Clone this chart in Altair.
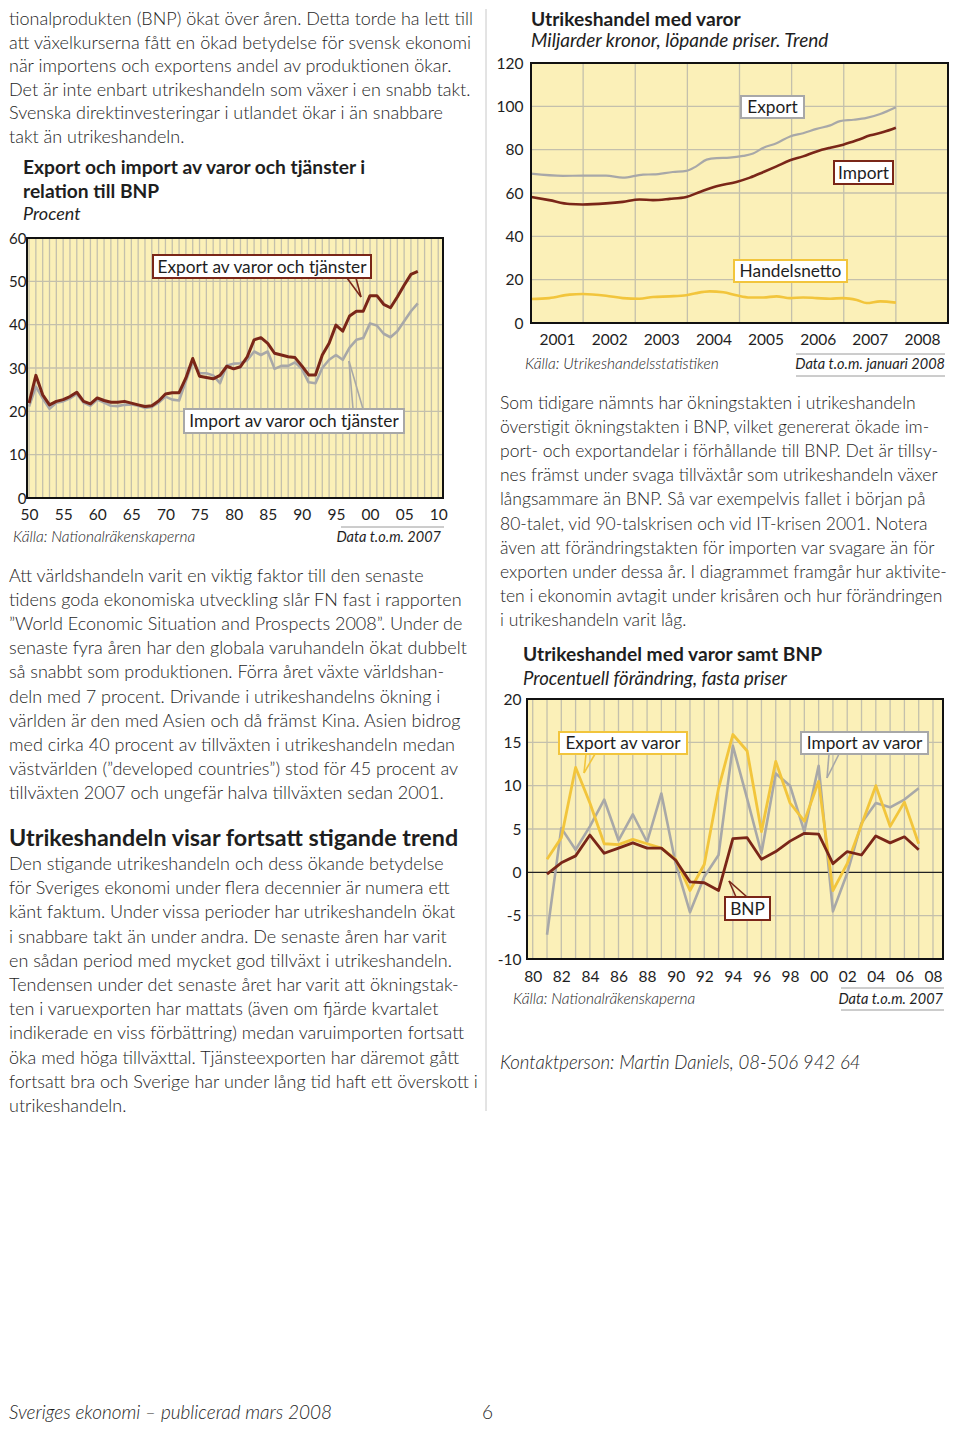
import altair as alt
import pandas as pd

# ---------------- data ----------------
# Chart 1: Export och import av varor och tjänster i relation till BNP (procent)
c1_years = list(range(1950, 2008))
c1_export = [21.9, 28.3, 23.8, 21.5, 22.3, 22.7, 23.4, 24.4, 22.3, 21.7,
             23.1, 22.5, 22.1, 22.1, 22.3, 21.9, 21.5, 21.1, 21.3, 22.4,
             24.0, 24.3, 24.3, 27.7, 32.2, 28.1, 27.8, 27.5, 28.3, 30.4,
             29.8, 30.3, 32.6, 36.5, 37.0, 35.7, 33.4, 33.0, 32.6, 32.4,
             30.5, 28.4, 28.4, 33.0, 35.7, 39.9, 38.5, 42.0, 43.1, 43.1,
             46.7, 46.7, 44.7, 43.9, 46.4, 49.1, 51.6, 52.3]
c1_import = [21.1, 25.7, 23.0, 20.6, 22.0, 22.3, 23.0, 24.0, 22.0, 21.3,
             22.7, 22.0, 21.3, 21.2, 21.5, 21.6, 21.3, 20.8, 21.0, 22.0,
             23.4, 22.7, 22.5, 27.0, 31.5, 28.8, 28.8, 28.3, 26.5, 30.6,
             31.0, 31.1, 31.8, 33.8, 33.0, 33.8, 29.8, 30.5, 30.5, 31.3,
             29.8, 26.7, 26.5, 30.0, 31.9, 33.0, 31.9, 34.7, 36.5, 36.9,
             40.3, 39.8, 37.9, 37.1, 38.5, 40.8, 43.1, 44.9]
c1_x_ticks = list(range(1950, 2011, 5))
c1_y_ticks = [0, 10, 20, 30, 40, 50, 60]
c1_vgrid = list(range(1950, 2011))
c1_hgrid = [10, 20, 30, 40, 50]

# Chart 2: Utrikeshandel med varor, miljarder kronor, trend
c2_export_t = [2001.00, 2001.61, 2001.99, 2002.44, 2002.76, 2003.15, 2003.35, 2003.72, 2003.98,
               2004.17, 2004.37, 2004.56, 2004.81, 2005.07, 2005.26, 2005.46, 2005.71, 2005.97,
               2006.22, 2006.48, 2006.74, 2006.93, 2007.19, 2007.44, 2007.70, 2008.00]
c2_export_v = [68.9, 67.9, 68.0, 68.0, 67.1, 68.5, 68.6, 69.7, 70.2,
               72.3, 75.4, 76.1, 76.3, 77.1, 78.2, 80.9, 83.0, 86.1,
               87.6, 89.6, 91.2, 93.2, 93.8, 94.7, 96.5, 99.6]
c2_import_t = [2001.00, 2001.35, 2001.74, 2001.99, 2002.44, 2002.76, 2003.08, 2003.34, 2003.66,
               2003.98, 2004.24, 2004.56, 2004.94, 2005.20, 2005.46, 2005.71, 2005.97, 2006.22,
               2006.48, 2006.74, 2006.99, 2007.25, 2007.51, 2007.76, 2008.00]
c2_import_v = [58.2, 56.7, 54.9, 54.7, 55.2, 55.9, 57.0, 56.7, 57.3,
               58.2, 60.5, 63.1, 65.1, 67.1, 69.7, 72.3, 75.1, 76.9,
               79.2, 80.9, 82.3, 84.3, 86.6, 88.1, 90.1]
c2_netto_t = [2001.00, 2001.35, 2001.74, 2001.99, 2002.44, 2002.76, 2003.08, 2003.34, 2003.66,
              2003.98, 2004.17, 2004.43, 2004.69, 2004.94, 2005.20, 2005.46, 2005.71, 2005.97,
              2006.22, 2006.48, 2006.74, 2006.99, 2007.25, 2007.44, 2007.70, 2008.00]
c2_netto_v = [11.1, 11.5, 13.1, 13.4, 12.6, 11.5, 11.2, 12.0, 12.3,
              12.8, 13.8, 14.6, 14.2, 12.8, 11.8, 11.8, 12.3, 11.5,
              11.8, 11.5, 11.2, 11.5, 10.6, 9.2, 10.0, 9.4]
c2_years = [2001, 2002, 2003, 2004, 2005, 2006, 2007, 2008]
c2_label_pos = [2001.5, 2002.5, 2003.5, 2004.5, 2005.5, 2006.5, 2007.5, 2008.5]
c2_vgrid = [2002, 2003, 2004, 2005, 2006, 2007, 2008]
c2_y_ticks = [0, 20, 40, 60, 80, 100, 120]
c2_hgrid = [20, 40, 60, 80, 100]

# Chart 3: Utrikeshandel med varor samt BNP, procentuell förändring
c3_years = list(range(1981, 2008))
c3_bnp = [-0.2, 1.1, 1.9, 4.3, 2.2, 2.8, 3.4, 2.8, 2.8, 1.4, -1.1, -1.2, -2.1, 3.9,
          4.0, 1.5, 2.4, 3.6, 4.5, 4.4, 1.0, 2.4, 2.0, 4.2, 3.4, 4.1, 2.6]
c3_export = [1.5, 4.0, 12.1, 8.0, 3.3, 3.2, 3.8, 3.3, 2.8, 1.5, -2.1, 0.9, 9.7, 15.9,
             14.0, 4.7, 12.8, 8.0, 5.9, 10.5, -2.1, 1.0, 5.5, 10.0, 5.3, 8.1, 3.3]
c3_import = [-7.2, 5.1, 2.6, 5.3, 8.4, 3.7, 6.7, 3.5, 9.1, 1.0, -4.6, -0.5, 2.0, 14.6,
             8.5, 2.2, 11.4, 10.0, 4.7, 12.3, -4.5, -0.1, 5.7, 8.0, 7.5, 8.4, 9.7]
c3_x_ticks = list(range(1980, 2009, 2))
c3_vgrid = list(range(1980, 2009))
c3_y_ticks = [-10, -5, 0, 5, 10, 15, 20]
c3_hgrid = [-5, 5, 10, 15]

# ---------------- texts ----------------
para1 = ["tionalprodukten (BNP) ökat över åren. Detta torde ha lett till",
         "att växelkurserna fått en ökad betydelse för svensk ekonomi",
         "när importens och exportens andel av produktionen ökar.",
         "Det är inte enbart utrikeshandeln som växer i en snabb takt.",
         "Svenska direktinvesteringar i utlandet ökar i än snabbare",
         "takt än utrikeshandeln."]
para2 = ["Att världshandeln varit en viktig faktor till den senaste",
         "tidens goda ekonomiska utveckling slår FN fast i rapporten",
         "”World Economic Situation and Prospects 2008”. Under de",
         "senaste fyra åren har den globala varuhandeln ökat dubbelt",
         "så snabbt som produktionen. Förra året växte världshan-",
         "deln med 7 procent. Drivande i utrikeshandelns ökning i",
         "världen är den med Asien och då främst Kina. Asien bidrog",
         "med cirka 40 procent av tillväxten i utrikeshandeln medan",
         "västvärlden (”developed countries”) stod för 45 procent av",
         "tillväxten 2007 och ungefär halva tillväxten sedan 2001."]
heading = "Utrikeshandeln visar fortsatt stigande trend"
para3 = ["Den stigande utrikeshandeln och dess ökande betydelse",
         "för Sveriges ekonomi under flera decennier är numera ett",
         "känt faktum. Under vissa perioder har utrikeshandeln ökat",
         "i snabbare takt än under andra. De senaste åren har varit",
         "en sådan period med mycket god tillväxt i utrikeshandeln.",
         "Tendensen under det senaste året har varit att ökningstak-",
         "ten i varuexporten har mattats (även om fjärde kvartalet",
         "indikerade en viss förbättring) medan varuimporten fortsatt",
         "öka med höga tillväxttal. Tjänsteexporten har däremot gått",
         "fortsatt bra och Sverige har under lång tid haft ett överskott i",
         "utrikeshandeln."]
para4 = ["Som tidigare nämnts har ökningstakten i utrikeshandeln",
         "överstigit ökningstakten i BNP, vilket genererat ökade im-",
         "port- och exportandelar i förhållande till BNP. Det är tillsy-",
         "nes främst under svaga tillväxtår som utrikeshandeln växer",
         "långsammare än BNP. Så var exempelvis fallet i början på",
         "80-talet, vid 90-talskrisen och vid IT-krisen 2001. Notera",
         "även att förändringstakten för importen var svagare än för",
         "exporten under dessa år. I diagrammet framgår hur aktivite-",
         "ten i ekonomin avtagit under krisåren och hur förändringen",
         "i utrikeshandeln varit låg."]

# ---------------- styles ----------------
FONT = "Lato"
INK = "#1e1e1e"
BG = "#FBF0B8"
GRID = "#C4C0AC"
RED = "#7A2618"
GREY = "#A8A8A8"
YEL = "#F2C53C"
BODY = 18
one = alt.Data(values=[{"k": 0}])


def text_block(lines, x, base, o, size=BODY, weight=300, style="normal",
               align="left", lh=24.1, color=INK):
    val = lines if len(lines) > 1 else lines[0]
    return alt.Chart(one).mark_text(
        align=align, baseline="top", font=FONT, fontSize=size, fontWeight=weight,
        fontStyle=style, lineHeight=lh, color=color
    ).encode(x=alt.value(x - o[0]), y=alt.value(base - round(0.79 * size) - o[1]),
             text=alt.value(val))


def rect(x1, y1, x2, y2, o, fill="white", stroke=None, sw=2.0):
    kw = dict(fill=fill, strokeWidth=sw)
    if stroke:
        kw["stroke"] = stroke
    return alt.Chart(one).mark_rect(**kw).encode(
        x=alt.value(x1 - o[0]), x2=alt.value(x2 - o[0]),
        y=alt.value(y1 - o[1]), y2=alt.value(y2 - o[1]))


def seg(x1, y1, x2, y2, o, color, w=1.5):
    return alt.Chart(one).mark_rule(color=color, strokeWidth=w).encode(
        x=alt.value(x1 - o[0]), x2=alt.value(x2 - o[0]),
        y=alt.value(y1 - o[1]), y2=alt.value(y2 - o[1]))


def callout(label, x1, y1, x2, y2, o, color, tail=None, size=17.3):
    layers = []
    if tail:
        (ax, ay), (bx, by), (tx, ty) = tail
        layers.append(seg(ax, ay, tx, ty, o, color, 1.6))
        layers.append(seg(bx, by, tx, ty, o, color, 1.6))
    layers.append(rect(x1, y1, x2, y2, o, fill="white", stroke=color, sw=2))
    layers.append(text_block([label], (x1 + x2) / 2, (y1 + y2) / 2 + 6, o,
                             size=size, weight="normal", align="center"))
    return layers


def xaxis(values, expr, pad):
    return alt.Axis(values=values, labelExpr=expr, domain=False, ticks=False, grid=False,
                    labelFlush=False, labelOverlap=False, labelFont=FONT, labelFontSize=15.5,
                    labelColor=INK, labelPadding=pad, title=None, zindex=2)


def yaxis(values, pad, offset=0, size=15.5):
    return alt.Axis(values=values, labelExpr="'' + datum.value", domain=False, ticks=False,
                    grid=False, labelFont=FONT, labelFontSize=size, labelColor=INK,
                    labelPadding=pad, title=None, offset=offset, labelOverlap=False, zindex=2)


def grid_v(vals, xs, xa, y1, y2, color=GRID):
    return alt.Chart(pd.DataFrame({"g": vals})).mark_rule(color=color, strokeWidth=1.3).encode(
        x=alt.X("g:Q", scale=xs, axis=xa), y=alt.value(y1), y2=alt.value(y2))


def grid_h(vals, ys, ya, x1, x2, color=GRID, w=1.3):
    return alt.Chart(pd.DataFrame({"g": vals})).mark_rule(color=color, strokeWidth=w).encode(
        y=alt.Y("g:Q", scale=ys, axis=ya), x=alt.value(x1), x2=alt.value(x2))


def line(t, v, xs, ys, xa, ya, color, w, interp="linear"):
    return alt.Chart(pd.DataFrame({"t": t, "v": v})).mark_line(
        color=color, strokeWidth=w, interpolate=interp, strokeJoin="round").encode(
        x=alt.X("t:Q", scale=xs, axis=xa), y=alt.Y("v:Q", scale=ys, axis=ya))


TWO = "substring(format(datum.value, 'd'), 2)"

# ---------------- panel 1 (left column) ----------------
O1 = (26, 8)
W1, H1 = 416, 489
T1 = H1 - 260
xs1 = alt.Scale(domain=[1949.7, 2010.7], range=[0, W1], nice=False, zero=False)
ys1 = alt.Scale(domain=[0, 60], range=[H1, T1], nice=False, zero=False)
XA1 = xaxis(c1_x_ticks, TWO, 9.5)
YA1 = yaxis(c1_y_ticks, 1, size=15)

p1 = [
    rect(26, 8 + T1, 26 + W1, 8 + H1, O1, fill=BG),
    grid_v(c1_vgrid, xs1, XA1, T1, H1),
    grid_h(c1_hgrid, ys1, YA1, 0, W1),
    line(c1_years, c1_import, xs1, ys1, XA1, YA1, GREY, 2.6),
    line(c1_years, c1_export, xs1, ys1, XA1, YA1, RED, 3.0),
    rect(26, 8 + T1, 26 + W1, 8 + H1, O1, fill="transparent", stroke="#111111", sw=2),
]
p1 += callout("Export av varor och tjänster", 152, 254, 370, 277, O1, RED,
              tail=((346, 277), (355, 277), (360, 296)))
p1 += callout("Import av varor och tjänster", 183, 408, 403, 432, O1, GREY,
              tail=((352, 408), (362, 408), (348, 360)))
p1 += [
    text_block(para1, 8, 24, O1, lh=23.5),
    text_block(["Export och import av varor och tjänster i", "relation till BNP"], 22, 173, O1,
               size=19.2, weight="bold", lh=23.5),
    text_block(["Procent"], 22, 219, O1, size=18, weight="normal", style="italic"),
    text_block(["Källa: Nationalräkenskaperna"], 12, 541, O1, size=15.5, style="italic"),
    text_block(["Data t.o.m. 2007"], 440, 541, O1, size=14.5, weight="normal", style="italic",
               align="right"),
    seg(340, 526, 443, 526, O1, "#9a9a9a", 1),
    text_block(para2, 8, 581, O1),
    text_block([heading], 8, 845, O1, size=23.3, weight="bold"),
    text_block(para3, 8, 869, O1, lh=24.2),
    text_block(["Sveriges ekonomi – publicerad mars 2008"], 8, 1418, O1, size=19, style="italic"),
    text_block(["6"], 481, 1418, O1, size=19),
    seg(485, 8, 485, 1110, O1, "#C8C8C8", 1),
]
panel1 = alt.layer(*p1).properties(width=W1, height=H1)

# ---------------- panel 2 (right top) ----------------
O2 = (526, 8)
W2, H2 = 421, 314
T2 = H2 - 260
xs2 = alt.Scale(domain=[2001, 2009], range=[4, W2], nice=False, zero=False)
ys2 = alt.Scale(domain=[0, 120], range=[H2, T2], nice=False, zero=False)
XA2 = xaxis(c2_label_pos, "floor(datum.value)", 9)
YA2 = yaxis(c2_y_ticks, 8, offset=-4)

p2 = [
    rect(530, 8 + T2, 526 + W2, 8 + H2, O2, fill=BG),
    grid_v(c2_vgrid, xs2, XA2, T2, H2),
    grid_h(c2_hgrid, ys2, YA2, 4, W2),
    line(c2_netto_t, c2_netto_v, xs2, ys2, XA2, YA2, YEL, 2.6, interp="monotone"),
    line(c2_export_t, c2_export_v, xs2, ys2, XA2, YA2, GREY, 2.2, interp="monotone"),
    line(c2_import_t, c2_import_v, xs2, ys2, XA2, YA2, RED, 2.6, interp="monotone"),
    rect(530, 8 + T2, 526 + W2, 8 + H2, O2, fill="transparent", stroke="#111111", sw=2),
]
p2 += callout("Export", 740, 95, 803, 117, O2, GREY)
p2 += callout("Import", 833, 160, 892, 183, O2, RED)
p2 += callout("Handelsnetto", 733, 259, 846, 281, O2, YEL)
p2 += [
    text_block(["Utrikeshandel med varor"], 530, 25, O2, size=19.2, weight="bold"),
    text_block(["Miljarder kronor, löpande priser. Trend"], 530, 46, O2, size=19,
               weight="normal", style="italic"),
    text_block(["Källa: Utrikeshandelsstatistiken"], 524, 368, O2, size=15.5, style="italic"),
    text_block(["Data t.o.m. januari 2008"], 944, 368, O2, size=14.5, weight="normal",
               style="italic", align="right"),
    seg(795, 353, 944, 353, O2, "#9a9a9a", 1),
    seg(795, 375, 944, 375, O2, "#9a9a9a", 1),
]
panel2 = alt.layer(*p2).properties(width=W2, height=H2)

# ---------------- panel 3 (right bottom) ----------------
O3 = (526, 322)
W3, H3 = 416, 636
T3 = H3 - 260
xs3 = alt.Scale(domain=[1979.6, 2008.7], range=[0, W3], nice=False, zero=False)
ys3 = alt.Scale(domain=[-10, 20], range=[H3, T3], nice=False, zero=False)
XA3 = xaxis(c3_x_ticks, TWO, 10)
YA3 = yaxis(c3_y_ticks, 6)

p3 = [
    rect(526, 322 + T3, 526 + W3, 322 + H3, O3, fill=BG),
    grid_v(c3_vgrid, xs3, XA3, T3, H3),
    grid_h(c3_hgrid, ys3, YA3, 0, W3),
    grid_h([0], ys3, YA3, 0, W3, color="#222222", w=1.2),
    line(c3_years, c3_import, xs3, ys3, XA3, YA3, GREY, 2.6),
    line(c3_years, c3_export, xs3, ys3, XA3, YA3, YEL, 2.8),
    line(c3_years, c3_bnp, xs3, ys3, XA3, YA3, RED, 2.8),
    rect(526, 322 + T3, 526 + W3, 322 + H3, O3, fill="transparent", stroke="#111111", sw=2),
]
p3 += callout("Export av varor", 558, 731, 686, 753, O3, YEL,
              tail=((585, 753), (594, 753), (583, 772)))
p3 += callout("Import av varor", 800, 731, 927, 753, O3, GREY,
              tail=((828, 753), (838, 753), (826, 777)))
p3 += callout("BNP", 724, 896, 769, 919, O3, RED,
              tail=((735, 896), (746, 896), (728, 880)))
p3 += [
    text_block(para4, 499, 408, O3, size=17.5),
    text_block(["Utrikeshandel med varor samt BNP"], 522, 660, O3, size=19.2, weight="bold"),
    text_block(["Procentuell förändring, fasta priser"], 522, 684, O3, size=18.5,
               weight="normal", style="italic"),
    text_block(["Källa: Nationalräkenskaperna"], 512, 1003, O3, size=15.5, style="italic"),
    text_block(["Data t.o.m. 2007"], 942, 1003, O3, size=14.5, weight="normal", style="italic",
               align="right"),
    seg(840, 987, 943, 987, O3, "#9a9a9a", 1),
    seg(840, 1009, 943, 1009, O3, "#9a9a9a", 1),
    text_block(["Kontaktperson: Martin Daniels, 08-506 942 64"], 499, 1068, O3, size=18.6,
               style="italic"),
]
panel3 = alt.layer(*p3).properties(width=W3, height=H3)

right = alt.vconcat(panel2, panel3, spacing=0, bounds="flush")
chart = (alt.hconcat(panel1, right, spacing=84, bounds="flush")
         .properties(padding=0, background="white")
         .configure_view(stroke=None))

chart.save("out.html", embed_options={"renderer": "svg", "actions": False})
